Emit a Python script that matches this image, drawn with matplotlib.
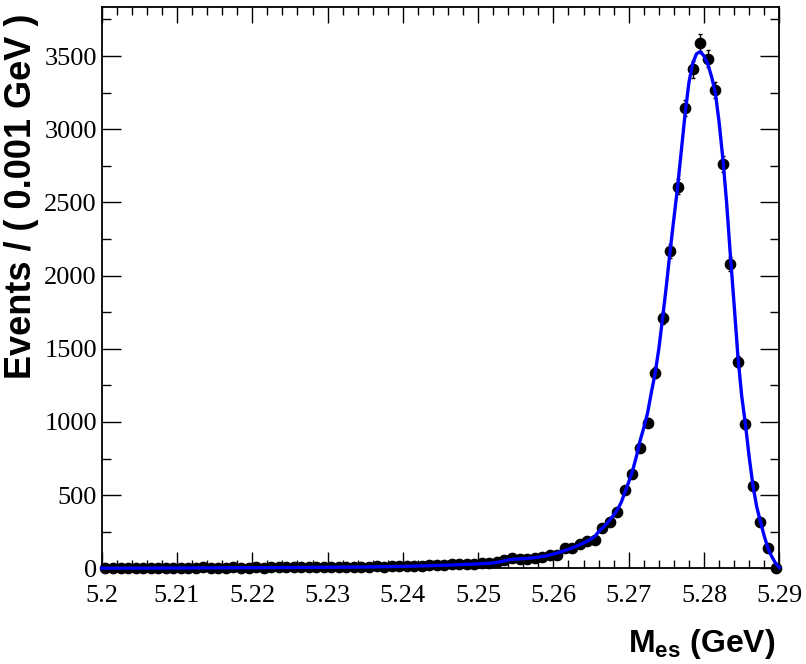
"""M_es distribution with fitted signal + background curve (ROOT-style look)."""

import matplotlib

matplotlib.use("Agg")
import matplotlib.pyplot as plt
import numpy as np
from matplotlib.ticker import FixedLocator, MultipleLocator

# Histogram: 90 bins of 0.001 GeV from 5.20 to 5.29 GeV
bin_low = 5.2
bin_width = 0.001
counts = [
    3, 2, 4, 3, 2, 4, 3, 2, 4, 3,
    5, 3, 4, 6, 4, 5, 3, 6, 5, 4,
    6, 5, 7, 6, 8, 6, 7, 9, 8, 7,
    10, 9, 11, 10, 12, 11, 13, 12, 15, 14,
    17, 16, 19, 21, 20, 24, 27, 26, 31, 29,
    34, 37, 41, 55, 70, 62, 66, 73, 74, 88,
    90, 142, 139, 165, 187, 190, 277, 318, 387, 535,
    642, 820, 995, 1336, 1708, 2170, 2607, 3143, 3411, 3591,
    3482, 3268, 2762, 2079, 1411, 984, 564, 316, 139, 3,
]

# Fit curve
fit_x = [
    5.200, 5.210, 5.220, 5.230, 5.235, 5.240, 5.245, 5.250, 5.252, 5.253,
    5.254, 5.255, 5.256, 5.257, 5.258, 5.259, 5.260, 5.261, 5.262, 5.263,
    5.264, 5.265, 5.2655, 5.266, 5.2665, 5.267, 5.2675, 5.268, 5.2685, 5.269,
    5.2695, 5.270, 5.2705, 5.271, 5.2715, 5.272, 5.2725, 5.273, 5.2735, 5.274,
    5.2745, 5.275, 5.2755, 5.276, 5.2765, 5.277, 5.2775, 5.278, 5.2785, 5.279,
    5.2795, 5.280, 5.2805, 5.281, 5.2815, 5.282, 5.2825, 5.283, 5.2835, 5.284,
    5.2845, 5.285, 5.2855, 5.286, 5.2865, 5.287, 5.2875, 5.288, 5.2885, 5.289,
    5.2895, 5.290,
]
fit_y = [
    1, 2, 4, 7, 9, 13, 20, 30, 36, 45,
    58, 63, 66, 70, 76, 85, 97, 112, 130, 150,
    172, 200, 218, 250, 275, 300, 330, 365, 400, 450,
    520, 590, 665, 760, 870, 960, 1060, 1200, 1330, 1500,
    1710, 1930, 2170, 2390, 2610, 2860, 3110, 3320, 3450, 3515,
    3530, 3500, 3445, 3360, 3250, 3050, 2800, 2500, 2140, 1800,
    1450, 1180, 985, 760, 565, 420, 318, 220, 137, 80,
    35, 5,
]

x_ticks = [5.2, 5.21, 5.22, 5.23, 5.24, 5.25, 5.26, 5.27, 5.28, 5.29]
x_tick_labels = ["5.2", "5.21", "5.22", "5.23", "5.24", "5.25", "5.26", "5.27", "5.28", "5.29"]
y_ticks = [0, 500, 1000, 1500, 2000, 2500, 3000, 3500]
y_tick_labels = ["0", "500", "1000", "1500", "2000", "2500", "3000", "3500"]

X_LABEL = r"$\mathbf{M_{es}}$ (GeV)"
Y_LABEL = "Events / ( 0.001 GeV )"

FIG_W, FIG_H, DPI = 806, 664, 100


def main() -> None:
    plt.rcParams["font.family"] = ["Liberation Serif"]
    plt.rcParams["mathtext.fontset"] = "custom"
    plt.rcParams["mathtext.rm"] = "Liberation Sans"
    plt.rcParams["mathtext.bf"] = "Liberation Sans:bold"

    values = np.asarray(counts, dtype=float)
    centers = bin_low + bin_width * (np.arange(len(values)) + 0.5)
    errors = np.sqrt(values)

    fig = plt.figure(figsize=(FIG_W / DPI, FIG_H / DPI), dpi=DPI)
    ax = fig.add_axes([101.7 / FIG_W, 1 - 568.3 / FIG_H,
                       (779.3 - 101.7) / FIG_W, (568.3 - 6.7) / FIG_H])

    marks = ax.errorbar(centers, values, yerr=errors, fmt="o", color="black",
                        markersize=7.4, elinewidth=1.0, capsize=1.5,
                        capthick=1.0, zorder=2)
    for artist in marks.lines[0:1] + tuple(marks.lines[1]) + tuple(marks.lines[2]):
        artist.set_clip_on(False)
    ax.plot(fit_x, fit_y, color="#0000ff", linewidth=2.4, zorder=3,
            clip_on=False)

    ax.set_xlim(5.2, 5.29)
    ax.set_ylim(0, 3837)

    ax.xaxis.set_major_locator(FixedLocator(x_ticks))
    ax.set_xticklabels(x_tick_labels)
    ax.xaxis.set_minor_locator(MultipleLocator(0.002))
    ax.yaxis.set_major_locator(FixedLocator(y_ticks))
    ax.set_yticklabels(y_tick_labels)
    ax.yaxis.set_minor_locator(MultipleLocator(250))

    ax.tick_params(axis="both", which="both", direction="in",
                   top=True, right=True, width=1.0, color="black",
                   labelsize=19, labelfontfamily="Liberation Serif")
    ax.tick_params(axis="x", which="major", length=11.5, pad=12)
    ax.tick_params(axis="x", which="minor", length=5.8)
    ax.tick_params(axis="y", which="major", length=13.7, pad=3.5)
    ax.tick_params(axis="y", which="minor", length=6.8)

    for spine in ax.spines.values():
        spine.set_linewidth(1.3)

    fig.text(22 / FIG_W, 1 - 14 / FIG_H, Y_LABEL, rotation=90,
             ha="center", va="top", fontsize=26, fontweight="bold",
             family="Liberation Sans")
    fig.text(775 / FIG_W, 1 - 651.7 / FIG_H, X_LABEL, ha="right",
             va="baseline", fontsize=23, fontweight="bold",
             family="Liberation Sans")

    fig.savefig("out.png", dpi=DPI)
    plt.close(fig)


if __name__ == "__main__":
    main()
